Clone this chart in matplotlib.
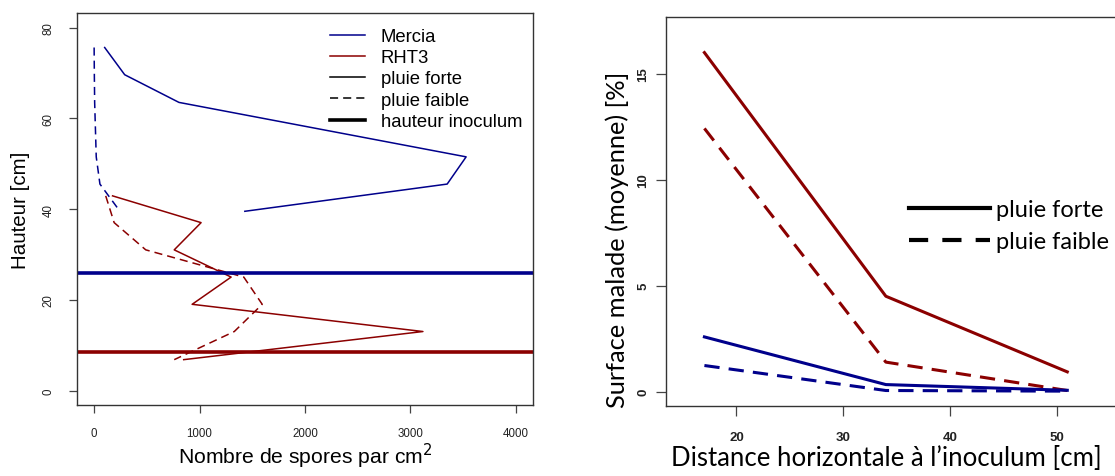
import numpy as np
import matplotlib
matplotlib.use("Agg")
import matplotlib.pyplot as plt
from matplotlib.lines import Line2D

plt.rcParams['font.family'] = ['Liberation Sans', 'DejaVu Sans']
plt.rcParams['axes.linewidth'] = 1.0
plt.rcParams['axes.edgecolor'] = '#333333'

BLUE = '#00008B'
RED = '#8B0000'

# --- left panel data: spore counts by height ---
h_mercia = [75.6, 69.6, 63.5, 51.5, 45.5, 39.5]
mercia_forte = [100, 290, 805, 3530, 3350, 1430]
mercia_faible = [0, 2, 5, 20, 55, 245]

h_rht3 = [42.9, 37.0, 31.0, 25.0, 19.0, 13.0, 6.8]
rht3_forte = [175, 1015, 760, 1300, 930, 3120, 850]
rht3_faible = [110, 190, 490, 1420, 1595, 1330, 760]

inoc_mercia = 26.0
inoc_rht3 = 8.5

# --- right panel data: diseased surface vs distance ---
distance = [17, 34, 51]
rht3_surf_forte = [16.0, 4.5, 0.93]
rht3_surf_faible = [12.42, 1.39, 0.05]
mercia_surf_forte = [2.58, 0.33, 0.06]
mercia_surf_faible = [1.23, 0.05, 0.02]

fig = plt.figure(figsize=(11.15, 4.77), dpi=100)

# ================= left =================
ax0 = fig.add_axes([0.0693, 0.1488, 0.4083, 0.8218])
lw = 1.1
dash = (5.3, 3.3)
ax0.plot(mercia_forte, h_mercia, color=BLUE, lw=lw)
ax0.plot(mercia_faible, h_mercia, color=BLUE, lw=lw, dashes=dash)
ax0.plot(rht3_forte, h_rht3, color=RED, lw=lw)
ax0.plot(rht3_faible, h_rht3, color=RED, lw=lw, dashes=dash)
ax0.axhline(inoc_mercia, color=BLUE, lw=2.6)
ax0.axhline(inoc_rht3, color=RED, lw=2.6)

ax0.set_xlim(-160, 4160)
ax0.set_ylim(-3.2, 83.2)
ax0.set_xticks([0, 1000, 2000, 3000, 4000])
ax0.set_yticks([0, 20, 40, 60, 80])
ax0.tick_params(axis='both', direction='out', length=5.5, width=0.9,
                labelsize=8.3, color='#444444', labelcolor='#222222')
ax0.tick_params(axis='x', pad=10)
ax0.tick_params(axis='y', pad=11)
for lab in ax0.get_yticklabels():
    lab.set_rotation(90)
    lab.set_va('center')
ax0.set_xlabel('Nombre de spores par cm$^2$', fontsize=15.2)
ax0.set_ylabel('Hauteur [cm]', fontsize=14.8)
ax0.xaxis.set_label_coords(0.5, -0.09)
ax0.yaxis.set_label_coords(-0.104, 0.5)

handles0 = [Line2D([], [], color=BLUE, lw=lw),
            Line2D([], [], color=RED, lw=lw),
            Line2D([], [], color='k', lw=lw),
            Line2D([], [], color='k', lw=lw, dashes=dash),
            Line2D([], [], color='k', lw=2.6)]
labels0 = ['Mercia', 'RHT3', 'pluie forte', 'pluie faible', 'hauteur inoculum']
ax0.legend(handles0, labels0, loc='upper left', bbox_to_anchor=(330 / 1115, 1 - 29 / 477),
           bbox_transform=fig.transFigure, frameon=False, fontsize=13.3,
           handlelength=1.9, handletextpad=0.86, labelspacing=0.23, borderpad=0,
           borderaxespad=0)

# ================= right =================
ax1 = fig.add_axes([0.5973, 0.1468, 0.4135, 0.8155])
lw1 = 2.2
dash1 = (5, 3)
ax1.plot(distance, rht3_surf_forte, color=RED, lw=lw1)
ax1.plot(distance, rht3_surf_faible, color=RED, lw=lw1, dashes=dash1)
ax1.plot(distance, mercia_surf_forte, color=BLUE, lw=lw1)
ax1.plot(distance, mercia_surf_faible, color=BLUE, lw=lw1, dashes=dash1)

ax1.set_xlim(13.4, 56.6)
ax1.set_ylim(-0.68, 17.68)
ax1.set_xticks([20, 30, 40, 50])
ax1.set_yticks([0, 5, 10, 15])
ax1.tick_params(axis='both', direction='out', length=7, width=0.9,
                labelsize=9.5, color='#444444', labelcolor='#222222')
ax1.tick_params(axis='x', pad=11)
ax1.tick_params(axis='y', pad=5)
for lab in ax1.get_xticklabels() + ax1.get_yticklabels():
    lab.set_fontweight('bold')
for lab in ax1.get_yticklabels():
    lab.set_rotation(90)
    lab.set_va('center')
ax1.set_xlabel('Distance horizontale à l\u2019inoculum [cm]', fontsize=18.5, family=['Lato', 'DejaVu Sans'])
ax1.set_ylabel('Surface malade (moyenne) [%]', fontsize=18.3, family=['Lato', 'DejaVu Sans'])
ax1.xaxis.set_label_coords(0.479, -0.1)
ax1.yaxis.set_label_coords(-0.080, 0.429)

handles1 = [Line2D([], [], color='k', lw=3.0),
            Line2D([], [], color='k', lw=3.0, dashes=(4.6, 3.4))]
ax1.legend(handles1, ['pluie forte', 'pluie faible'], loc='center left',
           bbox_to_anchor=(909 / 1115, 1 - 226.5 / 477), bbox_transform=fig.transFigure,
           frameon=False, prop={'family': 'Lato', 'size': 17},
           handlelength=3.43, handletextpad=0.25, labelspacing=0.45, borderpad=0,
           borderaxespad=0)

fig.savefig('out.png', dpi=100)
